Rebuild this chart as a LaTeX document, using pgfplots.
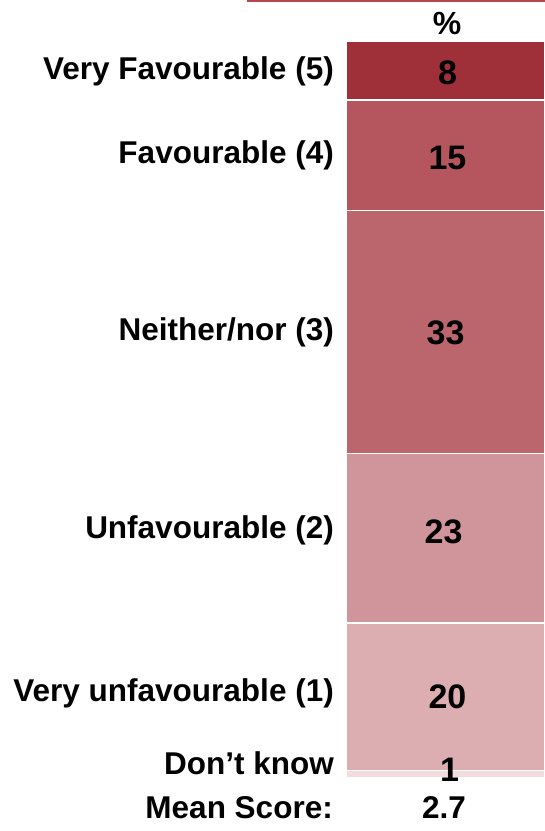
\documentclass[border=0pt]{standalone}
\usepackage{fontspec}
\setmainfont{Liberation Sans}
\usepackage{pgfplots}
\pgfplotsset{compat=1.18}

\definecolor{seg8}{HTML}{9F2F39}
\definecolor{seg15}{HTML}{B5565F}
\definecolor{seg33}{HTML}{BB656C}
\definecolor{seg23}{HTML}{D0959A}
\definecolor{seg20}{HTML}{DCADB1}
\definecolor{seg1}{HTML}{F2DCDE}
\definecolor{topline}{HTML}{B8454C}

\newcommand{\lab}{\bfseries\fontsize{31.5}{38}\selectfont}
\newcommand{\val}{\bfseries\fontsize{34}{40}\selectfont}

\begin{document}
\begin{tikzpicture}
\useasboundingbox (0,0) rectangle (545pt,831pt);
\draw[topline, line width=2pt] (247pt,830pt) -- (560pt,830pt);

\begin{axis}[
    at={(346pt,53pt)}, anchor=south west,
    scale only axis,
    width=199pt, height=737pt,
    ybar stacked,
    bar width=199pt,
    xmin=-0.5, xmax=0.5,
    ymin=0, ymax=100,
    xtick=\empty,
    ytick={2.0,11.5,33.6,60.5,84.5,95.9},
    yticklabels={Don’t know, Very unfavourable (1), Unfavourable (2),
                 Neither/nor (3), Favourable (4), Very Favourable (5)},
    yticklabel style={font=\lab, anchor=east, inner sep=0pt, xshift=-12pt},
    major tick length=0pt,
    axis x line*=bottom, axis y line*=left,
    axis line style={draw=gray!45, line width=0.8pt},
    clip=false,
]
% stacked from the bottom: Don't know, 1, 2, 3, 4, 5
\addplot[fill=seg1,  draw=white, line width=1.5pt] coordinates {(0,1)};
\addplot[fill=seg20, draw=white, line width=1.5pt] coordinates {(0,20)};
\addplot[fill=seg23, draw=white, line width=1.5pt] coordinates {(0,23)};
\addplot[fill=seg33, draw=white, line width=1.5pt] coordinates {(0,33)};
\addplot[fill=seg15, draw=white, line width=1.5pt] coordinates {(0,15)};
\addplot[fill=seg8,  draw=white, line width=1.5pt] coordinates {(0,8)};

\coordinate (v8)  at (axis cs:0.01,95.7);
\coordinate (v15) at (axis cs:0.01,84.1);
\coordinate (v33) at (axis cs:0,60.4);
\coordinate (v23) at (axis cs:-0.01,33.4);
\coordinate (v20) at (axis cs:0.01,11.0);
\coordinate (v1)  at (axis cs:0.02,1.1);
\end{axis}

\node[font=\val] at (v8) {8};
\node[font=\val] at (v15) {15};
\node[font=\val] at (v33) {33};
\node[font=\val] at (v23) {23};
\node[font=\val] at (v20) {20};
\node[font=\val] at (v1) {1};

\node[font=\lab, anchor=east, inner sep=0pt] at (333pt,23pt) {Mean Score:};
\node[font=\lab] at (444pt,23pt) {2.7};
\node[font=\bfseries\fontsize{32}{38}\selectfont] at (447pt,808pt) {\%};
\end{tikzpicture}
\end{document}
